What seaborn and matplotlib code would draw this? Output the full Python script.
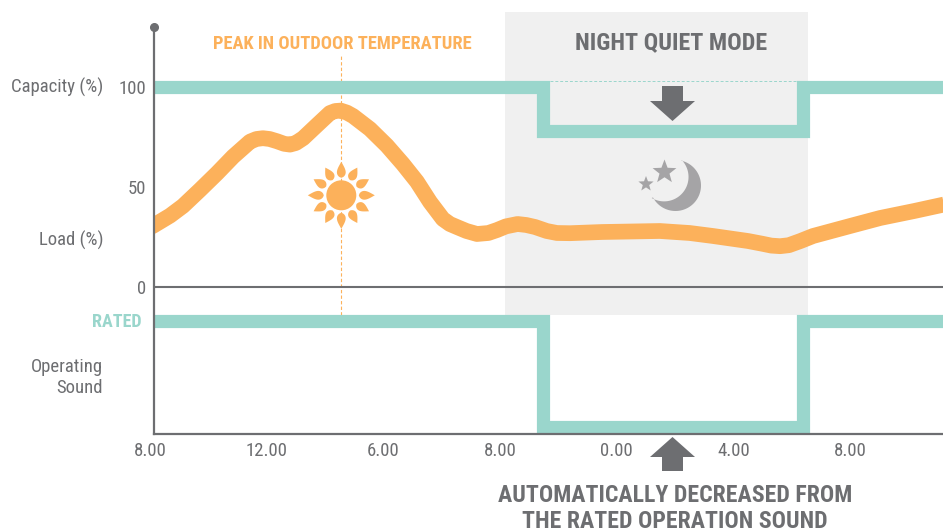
import numpy as np
import pandas as pd
import matplotlib
matplotlib.use("Agg")
import matplotlib.pyplot as plt
from matplotlib.patches import Polygon, Circle, Rectangle
from matplotlib.transforms import Affine2D
import seaborn as sns

# ---------- data ----------
load_hours = [8.0, 8.12, 8.69, 9.13, 9.71, 10.3, 10.85, 11.43, 11.65, 11.87, 12.1, 12.35, 12.6, 12.8, 13.0, 13.25,
              13.73, 14.17, 14.35, 14.54, 14.75, 14.96, 15.54, 16.12, 16.67, 17.15, 17.6, 18.04, 18.28, 18.52,
              18.85, 19.21, 19.6, 19.9, 20.2, 20.6, 20.9, 21.2, 21.6, 21.95, 22.4, 23.5, 25.48, 26.5,
              27.3, 28.5, 29.0, 29.3, 29.6, 29.9, 30.3, 30.73, 32.0, 33.03, 34.2, 35.3]
load_vals = [29.8, 30.7, 35.7, 40.5, 48.5, 56.9, 65.2, 72.7, 74, 74.4, 74, 72.9, 71.6, 71.2, 72, 74.4,
             81, 87, 88, 88.2, 87.2, 85.5, 79, 70.7, 61.5, 52.7, 42.5, 34, 31.5, 30,
             28, 26.5, 27, 28.5, 30.3, 31.5, 31, 30, 28, 27, 26.9, 27.5, 28, 27,
             25.5, 23, 21.6, 20.7, 20.4, 20.9, 23, 25.5, 30.5, 34.5, 38, 41.5]
capacity_hours = [8.12, 21.48, 21.48, 30.375, 30.375, 35.3]
capacity_vals = [100, 100, 78.2, 78.2, 100, 100]
sound_hours = [8.12, 21.48, 21.48, 30.375, 30.375, 35.3]
sound_vals = [-17, -17, -70, -70, -17, -17]
x_tick_pos = [8, 12, 16, 20, 24, 28, 32]
x_tick_labels = ["8.00", "12.00", "6.00", "8.00", "0.00", "4.00", "8.00"]
y_tick_pos = [0, 50, 100]
y_tick_labels = ["0", "50", "100"]
peak_hour = 14.55
night_start, night_end = 20.17, 30.56
axis_hour = 8.12

GREY = "#6d6e71"
TEAL = "#9ad6cc"
ORANGE = "#fcb15b"
BAND = "#f0f0f0"
W, H = 943, 531

sns.set_theme(style="white")
plt.rcParams["font.family"] = ["Roboto Condensed", "Archivo Narrow", "DejaVu Sans"]

fig = plt.figure(figsize=(W / 100, H / 100), dpi=100)
ax = fig.add_axes([150 / W, 1 - 434 / H, (W - 150) / W, (434 - 27) / H])
ax.patch.set_alpha(0)

px = Affine2D().scale(1 / W, -1 / H).translate(0, 1) + fig.transFigure

# night band
ax.add_patch(Rectangle((night_start, -14), night_end - night_start, 151.5,
                       fc=BAND, ec="none", zorder=0, clip_on=False))

# series
line_kw = dict(estimator=None, sort=False, legend=False, ax=ax, solid_joinstyle="miter", solid_capstyle="butt")
sns.lineplot(data=pd.DataFrame({"h": capacity_hours, "v": capacity_vals}), x="h", y="v",
             color=TEAL, linewidth=9.5, zorder=3, **line_kw)
sns.lineplot(data=pd.DataFrame({"h": sound_hours, "v": sound_vals}), x="h", y="v",
             color=TEAL, linewidth=9.5, zorder=3, **line_kw)
sns.lineplot(data=pd.DataFrame({"h": load_hours, "v": load_vals}), x="h", y="v", estimator=None, sort=False,
             legend=False, ax=ax, color=ORANGE, linewidth=11.3, zorder=4,
             solid_joinstyle="round", solid_capstyle="butt")
ax.lines[-1].set_clip_path(Rectangle((axis_hour, -80), 40, 230, transform=ax.transData))

# reference lines
ax.plot([axis_hour, 35.3], [0, 0], color=GREY, lw=1.5, zorder=2)
ax.plot([peak_hour, peak_hour], [-14, 115.5], color=ORANGE, lw=0.8, ls=(0, (3, 2)), zorder=1)
ax.plot([21.71, 30.15], [103, 103], color=TEAL, lw=0.7, ls=(0, (3, 2)), zorder=2)

# axes
ax.set_xticks(x_tick_pos, x_tick_labels)
ax.set_yticks(y_tick_pos, y_tick_labels)
ax.set_xlim(8, 8 + (W - 150) / 29.17)
ax.set_ylim(-73.5, 130)
sns.despine(ax=ax, top=True, right=True)
ax.spines["left"].set_position(("data", axis_hour))
ax.spines["bottom"].set_bounds(axis_hour, 35.3)
for s in ("left", "bottom"):
    ax.spines[s].set_color(GREY)
    ax.spines[s].set_linewidth(1.6)
    ax.spines[s].set_zorder(5)
ax.tick_params(axis="both", length=0, labelsize=13.5, labelcolor=GREY)
ax.tick_params(axis="x", pad=6)
ax.tick_params(axis="y", pad=5.5)
ax.set_xlabel("")
ax.set_ylabel("")
ax.plot([153.5], [27], "o", ms=5.5, color=GREY, transform=px, clip_on=False, zorder=6)


def label(x, y, s, size=13.5, color=GREY, weight="normal", ha="right"):
    fig.text(x, y, s, transform=px, fontsize=size, color=color, fontweight=weight, ha=ha, va="center")


label(103.5, 87, "Capacity (%)")
label(103.5, 240, "Load (%)")
label(103, 367, "Operating")
label(103, 388, "Sound")
label(141.5, 322, "RATED", color=TEAL, weight="bold", size=13)
label(342, 44, "PEAK IN OUTDOOR TEMPERATURE", color=ORANGE, weight="bold", size=13.3, ha="center")
label(671, 43, "NIGHT QUIET MODE", weight="bold", size=17.3, ha="center")
label(675, 496, "AUTOMATICALLY DECREASED FROM", weight="bold", size=17.1, ha="center")
label(675, 521, "THE RATED OPERATION SOUND", weight="bold", size=17.1, ha="center")


def add_poly(points, color):
    ax.add_patch(Polygon(points, closed=True, fc=color, ec="none", transform=px, clip_on=False, zorder=6))


# arrows
add_poly([(662, 86), (683, 86), (683, 101), (695, 101), (672.5, 121), (650, 101), (662, 101)], GREY)
add_poly([(662, 471), (683, 471), (683, 457), (695, 457), (672.5, 437), (650, 457), (662, 457)], GREY)

# sun
cx, cy = 341.3, 195.3
ax.add_patch(Circle((cx, cy), 15, fc=ORANGE, ec="none", transform=px, clip_on=False, zorder=6))
t = np.linspace(0, 1, 24)
for k in range(12):
    length = 16 if k % 3 == 0 else 14.5
    half_w = 4.4 * np.sin(np.pi * t ** 0.65)
    r = 17.5 + length * t
    a = np.deg2rad(30 * k)
    along = np.array([np.cos(a), np.sin(a)])
    perp = np.array([-along[1], along[0]])
    left = np.c_[cx + r * along[0] + half_w * perp[0], cy + r * along[1] + half_w * perp[1]]
    right = np.c_[cx + r * along[0] - half_w * perp[0], cy + r * along[1] - half_w * perp[1]]
    add_poly(np.vstack([left, right[::-1]]), ORANGE)

# moon and stars
MOON = "#a5a4a6"
ocx, ocy, orad = 675.5, 185.5, 25.5
tip1, tip2, mid = np.array([681.7, 160.0]), np.array([651.7, 198.0]), np.array([688.0, 182.0])
A = 2 * np.array([tip2 - tip1, mid - tip1])
b = np.array([tip2 @ tip2 - tip1 @ tip1, mid @ mid - tip1 @ tip1])
icx, icy = np.linalg.solve(A, b)
irad = np.hypot(tip1[0] - icx, tip1[1] - icy)
a_o = np.deg2rad(np.linspace(-76, 152, 60))
a1 = np.arctan2(tip1[1] - icy, tip1[0] - icx)
a2 = np.arctan2(tip2[1] - icy, tip2[0] - icx)
if a2 < a1:
    a2 += 2 * np.pi
a_i = np.linspace(a2, a1, 60)
add_poly(np.vstack([np.c_[ocx + orad * np.cos(a_o), ocy + orad * np.sin(a_o)],
                    np.c_[icx + irad * np.cos(a_i), icy + irad * np.sin(a_i)]]), MOON)


def star(x, y, R):
    ang = np.deg2rad(-90 + 36 * np.arange(10))
    rad = np.where(np.arange(10) % 2 == 0, R, R * 0.42)
    add_poly(np.c_[x + rad * np.cos(ang), y + rad * np.sin(ang)], MOON)


star(664.5, 172, 12.5)
star(646, 184, 8)

fig.savefig("out.png", dpi=100)
